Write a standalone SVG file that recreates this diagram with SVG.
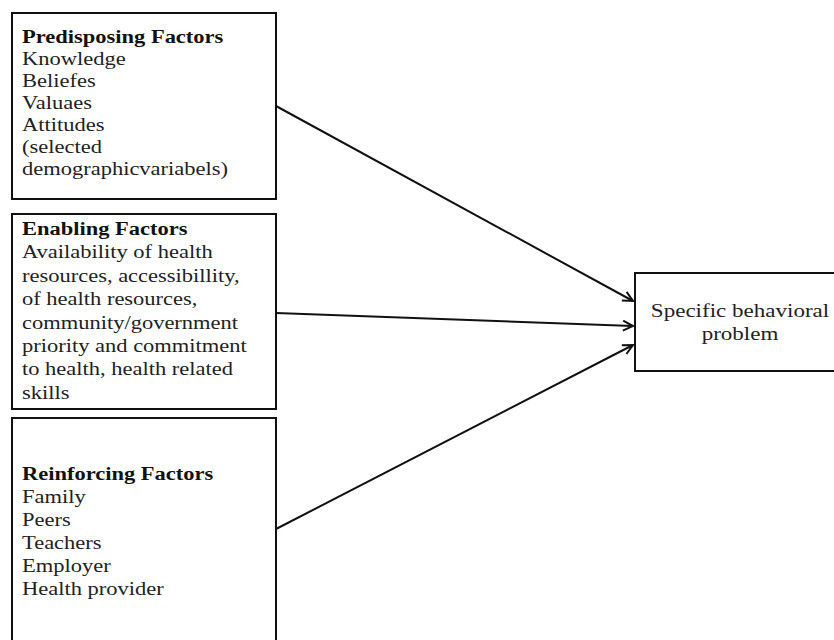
<svg xmlns="http://www.w3.org/2000/svg" width="834" height="640" viewBox="0 0 834 640">
<style>
.box{fill:#fff;stroke:#111;stroke-width:2}
.t{font-family:"Liberation Serif","Times New Roman",serif;font-size:18px;fill:#222}
.b{font-weight:bold;fill:#111}
.conn{stroke:#111;stroke-width:2;fill:none}
</style>
<defs>
<marker id="arr" markerUnits="userSpaceOnUse" markerWidth="14" markerHeight="14" refX="11" refY="6" orient="auto">
<path d="M1,1 L11,6 L1,11" fill="none" stroke="#111" stroke-width="2"/>
</marker>
</defs>
<rect width="834" height="640" fill="#fff"/>
<g id="predisposing">
<rect class="box" x="12" y="13" width="264" height="186"/>
<g class="t" transform="translate(22,0) scale(1.25,1)">
<text class="b" x="0" y="43">Predisposing Factors</text>
<text x="0" y="65">Knowledge</text>
<text x="0" y="87">Beliefes</text>
<text x="0" y="109">Valuaes</text>
<text x="0" y="131">Attitudes</text>
<text x="0" y="153">(selected</text>
<text x="0" y="175">demographicvariabels)</text>
</g>
</g>
<g id="enabling">
<rect class="box" x="12" y="214" width="264" height="195"/>
<g class="t" transform="translate(22,0) scale(1.25,1)">
<text class="b" x="0" y="235">Enabling Factors</text>
<text x="0" y="258">Availability of health</text>
<text x="0" y="282">resources, accessibillity,</text>
<text x="0" y="305">of health resources,</text>
<text x="0" y="329">community/government</text>
<text x="0" y="352">priority and commitment</text>
<text x="0" y="375">to health, health related</text>
<text x="0" y="399">skills</text>
</g>
</g>
<g id="reinforcing">
<rect class="box" x="12" y="418" width="264" height="240"/>
<g class="t" transform="translate(22,0) scale(1.25,1)">
<text class="b" x="0" y="480">Reinforcing Factors</text>
<text x="0" y="503">Family</text>
<text x="0" y="526">Peers</text>
<text x="0" y="549">Teachers</text>
<text x="0" y="572">Employer</text>
<text x="0" y="595">Health provider</text>
</g>
</g>
<g id="problem">
<rect class="box" x="635" y="273" width="220" height="98"/>
<g class="t" text-anchor="middle" transform="translate(740,0) scale(1.28,1)">
<text x="0" y="317">Specific behavioral</text>
<text x="0" y="340">problem</text>
</g>
</g>
<g id="connectors">
<line class="conn" x1="276" y1="106" x2="633" y2="301" marker-end="url(#arr)"/>
<line class="conn" x1="276" y1="313" x2="633" y2="326" marker-end="url(#arr)"/>
<line class="conn" x1="276" y1="529" x2="633" y2="345" marker-end="url(#arr)"/>
</g>
</svg>
